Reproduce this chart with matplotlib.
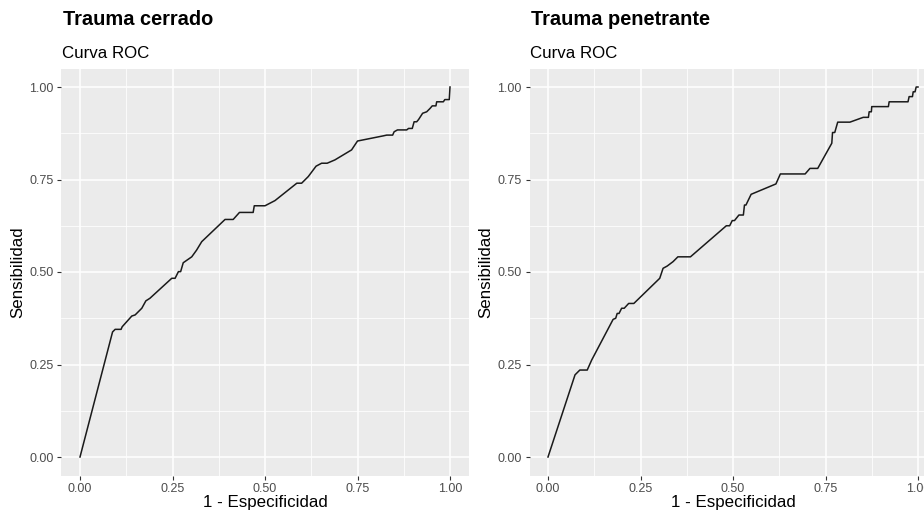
import numpy as np
import matplotlib
matplotlib.use('Agg')
import matplotlib.pyplot as plt

plt.rcParams['font.family'] = ['Liberation Sans', 'DejaVu Sans']

# curva ROC - trauma cerrado
fpr_cerrado = [0, 0.088, 0.095, 0.111, 0.114, 0.14, 0.149, 0.167, 0.178, 0.189, 0.248, 0.257,
               0.266, 0.272, 0.279, 0.302, 0.315, 0.329, 0.392, 0.414, 0.431, 0.468, 0.471, 0.5,
               0.527, 0.586, 0.599, 0.617, 0.638, 0.653, 0.668, 0.689, 0.734, 0.750, 0.820, 0.829,
               0.845, 0.849, 0.858, 0.883, 0.888, 0.898, 0.903, 0.910, 0.915, 0.926, 0.937, 0.946,
               0.952, 0.962, 0.964, 0.982, 0.986, 0.998, 1.0]
tpr_cerrado = [0, 0.338, 0.345, 0.345, 0.352, 0.381, 0.384, 0.402, 0.422, 0.429, 0.483, 0.483,
               0.501, 0.501, 0.525, 0.541, 0.559, 0.582, 0.642, 0.642, 0.661, 0.661, 0.679, 0.679,
               0.693, 0.740, 0.740, 0.758, 0.786, 0.794, 0.794, 0.803, 0.830, 0.854, 0.868, 0.870,
               0.870, 0.879, 0.884, 0.884, 0.888, 0.888, 0.906, 0.906, 0.912, 0.929, 0.933, 0.942,
               0.949, 0.949, 0.960, 0.960, 0.966, 0.966, 1.0]

# curva ROC - trauma penetrante
fpr_penetrante = [0, 0.073, 0.086, 0.106, 0.118, 0.176, 0.183, 0.187, 0.192, 0.199, 0.206, 0.218,
                  0.232, 0.302, 0.311, 0.322, 0.338, 0.351, 0.385, 0.482, 0.491, 0.498, 0.504,
                  0.516, 0.528, 0.531, 0.535, 0.549, 0.616, 0.628, 0.695, 0.708, 0.729, 0.767,
                  0.769, 0.775, 0.783, 0.816, 0.852, 0.866, 0.868, 0.874, 0.875, 0.920, 0.922,
                  0.973, 0.976, 0.985, 0.987, 0.992, 0.995, 1.0]
tpr_penetrante = [0, 0.222, 0.235, 0.235, 0.262, 0.372, 0.375, 0.388, 0.388, 0.402, 0.402, 0.415,
                  0.415, 0.483, 0.510, 0.516, 0.528, 0.541, 0.541, 0.625, 0.625, 0.639, 0.639,
                  0.654, 0.654, 0.681, 0.681, 0.710, 0.738, 0.765, 0.765, 0.780, 0.780, 0.848,
                  0.877, 0.877, 0.905, 0.905, 0.918, 0.918, 0.933, 0.933, 0.947, 0.947, 0.960,
                  0.960, 0.974, 0.974, 0.987, 0.987, 1.0, 1.0]

titles = ['Trauma cerrado', 'Trauma penetrante']
subtitle = 'Curva ROC'
ticks = [0, 0.25, 0.5, 0.75, 1.0]
tick_labels = ['0.00', '0.25', '0.50', '0.75', '1.00']
minor_ticks = [0.125, 0.375, 0.625, 0.875]

W, H = 924, 514
fig = plt.figure(figsize=(W / 100, H / 100), dpi=100)


def roc_panel(left_px, fpr, tpr, title):
    top_px, size_px = 68.5, 407
    ax = fig.add_axes([left_px / W, (H - top_px - size_px) / H, size_px / W, size_px / H])
    ax.set_facecolor('#EBEBEB')
    for s in ax.spines.values():
        s.set_visible(False)
    ax.set_xlim(-0.05, 1.05)
    ax.set_ylim(-0.05, 1.05)
    for v in minor_ticks:
        ax.axvline(v, color='white', lw=0.55, zorder=0)
        ax.axhline(v, color='white', lw=0.55, zorder=0)
    for v in ticks:
        ax.axvline(v, color='white', lw=1.1, zorder=0)
        ax.axhline(v, color='white', lw=1.1, zorder=0)
    ax.plot(fpr, tpr, color='#1A1A1A', lw=1.1, zorder=3)
    ax.set_xticks(ticks)
    ax.set_xticklabels(tick_labels)
    ax.set_yticks(ticks)
    ax.set_yticklabels(tick_labels)
    ax.tick_params(length=3, width=0.8, color='#333333', labelcolor='#4D4D4D',
                   labelsize=9, pad=2.5)
    ax.set_xlabel('1 - Especificidad', fontsize=12.2, labelpad=0, color='black')
    ax.set_ylabel('Sensibilidad', fontsize=12.2, labelpad=3, color='black')
    fig.text((left_px + 1.5) / W, 1 - 25 / H, title, fontsize=14.4, fontweight='bold',
             ha='left', va='baseline')
    fig.text((left_px + 0.5) / W, 1 - 57.5 / H, subtitle, fontsize=12.2,
             ha='left', va='baseline')
    return ax


roc_panel(61.5, fpr_cerrado, tpr_cerrado, titles[0])
roc_panel(529.5, fpr_penetrante, tpr_penetrante, titles[1])

fig.savefig('out.png', dpi=100, facecolor='white')
